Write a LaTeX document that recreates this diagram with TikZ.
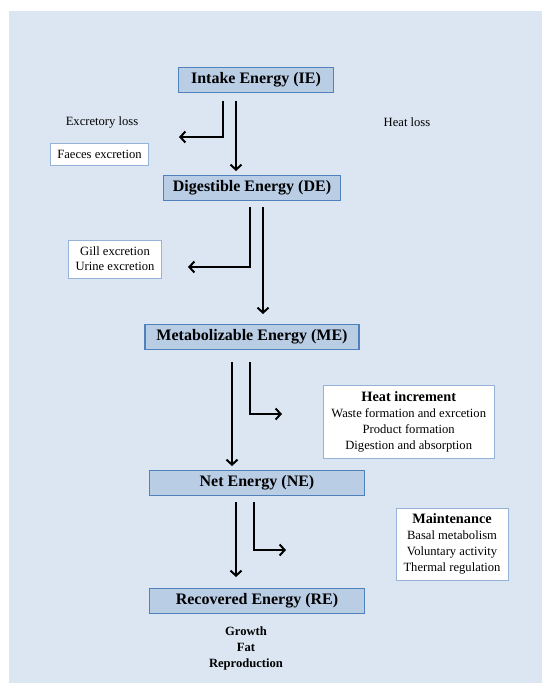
\documentclass[tikz,border=0pt]{standalone}
\usepackage{fontspec}
\setmainfont{Liberation Serif}
\usetikzlibrary{arrows.meta}
\definecolor{panelbg}{HTML}{DCE6F2}
\definecolor{boxfill}{HTML}{B9CDE5}
\definecolor{boxline}{HTML}{4F81BD}
\definecolor{noteline}{HTML}{95B3D7}
\tikzset{
  energy/.style={draw=boxline, line width=1.3pt, fill=boxfill, minimum height=25pt,
    inner sep=0pt, font=\fontsize{16}{18}\selectfont\bfseries},
  note/.style={draw=noteline, line width=0.8pt, fill=white, inner sep=0pt,
    align=center, font=\fontsize{12.6}{16.2}\selectfont},
  plain/.style={inner sep=0pt, align=center, font=\fontsize{12.6}{16}\selectfont},
  flow/.style={line width=2pt, -{Straight Barb[length=5pt,width=11pt]}},
}
\begin{document}
\begin{tikzpicture}[x=1pt,y=-1pt]
\useasboundingbox (0,0) rectangle (542,683);
\fill[panelbg] (9,11) rectangle (542,683);

% energy boxes
\node[energy, minimum width=155pt] (ie) at (256,80) {Intake Energy (IE)};
\node[energy, minimum width=177pt] (de) at (252,188) {Digestible Energy (DE)};
\node[energy, minimum width=214pt] (me) at (252,337) {Metabolizable Energy (ME)};
\node[energy, minimum width=215pt] (ne) at (257,483) {Net Energy (NE)};
\node[energy, minimum width=215pt] (re) at (257,601) {Recovered Energy (RE)};

% labels and notes
\node[plain] (exl) at (102,122) {Excretory loss};
\node[plain] (hl) at (407,122) {Heat loss};
\node[note, minimum width=98pt, minimum height=22pt] (fae) at (99.5,154) {Faeces excretion};
\node[note, minimum width=93pt, minimum height=38pt, font=\fontsize{12.6}{15.2}\selectfont] (gill) at (115,259) {Gill excretion\\Urine excretion};
\node[note, minimum width=171pt, minimum height=73pt] (hi) at (408.7,422)
  {{\fontsize{14.3}{16.2}\selectfont\bfseries Heat increment}\\Waste formation and exrcetion\\Product formation\\Digestion and absorption};
\node[note, minimum width=112pt, minimum height=72pt] (mt) at (452,544)
  {{\fontsize{14.3}{16.2}\selectfont\bfseries Maintenance}\\Basal metabolism\\Voluntary activity\\Thermal regulation};
\node[plain, font=\fontsize{12.6}{16}\selectfont\bfseries] (gr) at (246,648) {Growth\\Fat\\Reproduction};

% connector end points
\coordinate (ia) at (223,101); \coordinate (iaend) at (179,137);
\coordinate (ib) at (236,101); \coordinate (ibend) at (236,171);
\coordinate (da) at (250,207); \coordinate (daend) at (188,267);
\coordinate (db) at (263,207); \coordinate (dbend) at (263,314);
\coordinate (ma) at (232,362); \coordinate (maend) at (232,466);
\coordinate (mb) at (250,362); \coordinate (mbend) at (282,414);
\coordinate (na) at (236,502); \coordinate (naend) at (236,577);
\coordinate (nb) at (254,502); \coordinate (nbend) at (286,550);

\draw[flow] (ia) |- (iaend);
\draw[flow] (ib) -- (ibend);
\draw[flow] (da) |- (daend);
\draw[flow] (db) -- (dbend);
\draw[flow] (ma) -- (maend);
\draw[flow] (mb) |- (mbend);
\draw[flow] (na) -- (naend);
\draw[flow] (nb) |- (nbend);
\end{tikzpicture}
\end{document}
